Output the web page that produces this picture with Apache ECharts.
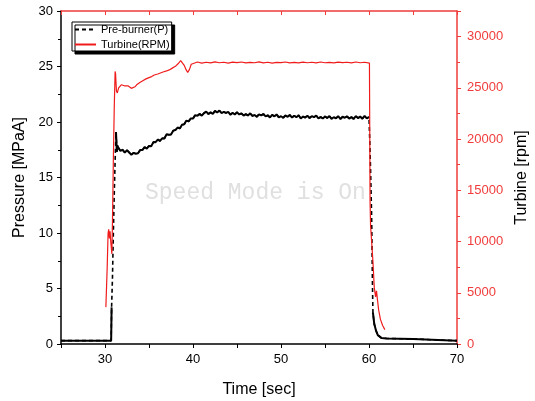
<!DOCTYPE html>
<html><head><meta charset="utf-8">
<script src="https://cdn.jsdelivr.net/npm/echarts@6/dist/echarts.min.js"></script>
<style>html,body{margin:0;padding:0;background:#fff;overflow:hidden}#c{width:535px;height:401px}</style>
</head><body><div id="c"></div><script>
// ---- data ----
// Pressure: start-up part (time, MPa)
const pStartTime = [25, 30.7, 30.72, 30.75, 30.85, 30.95, 31.05, 31.15, 31.25, 31.3, 31.35, 31.4];
const pStartVal  = [0.3, 0.3, 1.5, 3.3, 6.0, 10.0, 13.5, 16.5, 19.1, 18.2, 17.3, 17.9];
// Pressure: noisy running part, first sample at 31.5 s, one sample every 0.25 s
const pRunStart = 31.5, pRunStep = 0.25;
const pRunVal = [
 17.70,17.40,17.50,17.25,17.45,17.25,17.05,17.22,17.14,17.18,17.48,17.47,17.73,17.60,17.84,17.81,18.19,18.18,18.42,18.29,
 18.53,18.52,18.89,18.85,18.88,19.22,19.28,19.50,19.42,19.75,19.79,20.13,20.05,20.32,20.31,20.62,20.56,20.73,20.57,20.80,
 20.94,20.72,20.87,20.73,21.00,20.85,21.03,20.80,20.91,20.82,20.91,20.66,20.84,20.68,20.87,20.68,20.78,20.58,20.70,20.59,
 20.78,20.55,20.63,20.47,20.69,20.60,20.72,20.51,20.60,20.41,20.65,20.51,20.68,20.42,20.52,20.38,20.59,20.47,20.64,20.40,
 20.56,20.43,20.61,20.32,20.49,20.40,20.57,20.35,20.53,20.43,20.58,20.33,20.45,20.32,20.50,20.36,20.54,20.29,20.43,20.34,
 20.52,20.27,20.47,20.38,20.51,20.31,20.44,20.28,20.53,20.35,20.49,20.30,20.55,20.33,20.45
];
// Pressure: shut-down part
const pEndTime = [60.1, 60.2, 60.3, 60.4, 60.45, 60.6, 60.8, 61.0, 61.4, 62.0, 65.0, 65.2, 70];
const pEndVal  = [18.0, 15.0, 11.5, 5.0, 2.8, 1.8, 1.2, 0.8, 0.55, 0.5, 0.45, 0.3, 0.3];
// Time spans where the dashed pressure line shows its dashes
const dashedSpans = [[30.75, 31.25], [60.0, 60.45]];

// Turbine speed (time, rpm)
const tTime = [30.1,30.25,30.35,30.42,30.5,30.58,30.65,30.78,30.85,30.95,31.05,31.15,31.2,31.3,31.4,31.55,31.7,31.85,32.0,32.2,
 32.4,32.6,32.8,33.0,33.2,33.4,33.6,33.8,34.0,34.3,34.6,35.0,35.3,35.6,36.0,36.3,36.6,37.0,37.3,37.6,
 38.0,38.3,38.6,38.8,39.0,39.2,39.4,39.6,39.8,40.0,40.5,41,41.5,42,42.5,43,43.5,44,44.5,45,
 45.5,46,46.5,47,47.5,48,48.5,49,49.5,50,50.5,51,51.5,52,52.5,53,53.5,54,54.5,55,
 55.5,56,56.5,57,57.5,58,58.5,59,59.5,60.05,60.12,60.18,60.3,60.45,60.6,60.75,60.85,60.95,61.1,61.3,61.55,61.8];
const tVal = [3600,7500,10800,11200,10300,11000,10000,8800,12000,18000,23000,26600,26400,24700,24500,25000,24900,25300,25400,25200,
 25350,25200,25100,24950,24900,25100,25300,25450,25550,25700,25850,26000,26100,26250,26350,26450,26550,26650,26750,26900,
 27100,27350,27650,27500,27200,26800,26500,26800,27300,27450,27520,27420,27500,27440,27530,27450,27500,27420,27510,27460,
 27520,27430,27490,27450,27530,27440,27500,27420,27480,27460,27520,27440,27490,27430,27510,27450,27500,27440,27520,27450,
 27490,27430,27510,27460,27500,27440,27520,27450,27500,27420,14000,11500,10000,8000,5500,4600,5200,4400,3300,2400,1800,1400];

// ---- build series data ----
const pressure = [];
pStartTime.forEach((t, i) => pressure.push([t, pStartVal[i]]));
pRunVal.forEach((v, i) => pressure.push([+(pRunStart + i * pRunStep).toFixed(2), v]));
pEndTime.forEach((t, i) => pressure.push([t, pEndVal[i]]));
const inDash = t => dashedSpans.some(s => t > s[0] && t < s[1]);
const pressureSolid = pressure.map(p => inDash(p[0]) ? [p[0], null] : p);
const turbine = tTime.map((t, i) => [t, tVal[i]]);

const RED = '#f01c1c', AXRED = '#f03c3c';
const FONT = '"Liberation Sans", Arial, sans-serif';
const chart = echarts.init(document.getElementById('c'), null, {renderer: 'canvas'});
chart.setOption({
  animation: false,
  backgroundColor: '#fff',
  grid: {left: 61, right: 78, top: 11, bottom: 57, containLabel: false, outerBoundsMode: 'none'},
  graphic: [{
    type: 'text', left: 145, top: 181, z: 0, silent: true,
    style: {text: 'Speed Mode is On', font: '23px "Liberation Mono", "Courier New", monospace', fill: '#e0e0e0'}
  }],
  legend: {
    left: 72, top: 22, orient: 'vertical', itemGap: 4, itemWidth: 21, itemHeight: 10,
    padding: [2, 2, 1, 2], backgroundColor: '#fff', borderColor: '#000', borderWidth: 1,
    shadowColor: '#000', shadowBlur: 0, shadowOffsetX: 3, shadowOffsetY: 3,
    itemStyle: {opacity: 0},
    textStyle: {fontFamily: FONT, fontSize: 11, color: '#000'},
    data: ['Pre-burner(P)', 'Turbine(RPM)']
  },
  xAxis: [{
    type: 'value', min: 25, max: 70, interval: 5, position: 'bottom',
    name: 'Time [sec]', nameLocation: 'middle', nameGap: 38,
    nameTextStyle: {fontFamily: FONT, fontSize: 16, color: '#000'},
    axisLine: {onZero: false, lineStyle: {color: '#000', width: 1.5}},
    axisTick: {show: true, inside: false, length: 4, lineStyle: {color: '#000'}},
    axisLabel: {fontFamily: FONT, fontSize: 13, color: '#000', margin: 9,
      formatter: v => (v % 10 === 0 ? String(v) : '')},
    splitLine: {show: false}
  }, {
    type: 'value', min: 25, max: 70, interval: 5, position: 'top',
    axisLine: {onZero: false, lineStyle: {color: AXRED, width: 1.5}},
    axisTick: {show: true, inside: true, length: 4, lineStyle: {color: AXRED}},
    axisLabel: {show: false}, splitLine: {show: false}
  }],
  yAxis: [{
    type: 'value', min: 0, max: 30, interval: 5, position: 'left',
    name: 'Pressure [MPaA]', nameLocation: 'middle', nameGap: 29,
    nameTextStyle: {fontFamily: FONT, fontSize: 16, color: '#000'},
    axisLine: {show: true, onZero: false, lineStyle: {color: '#000', width: 1.5}},
    axisTick: {show: true, inside: false, length: 4, lineStyle: {color: '#000'}},
    minorTick: {show: true, splitNumber: 2, length: 3, lineStyle: {color: '#000'}},
    axisLabel: {fontFamily: FONT, fontSize: 13, color: '#000', margin: 8},
    splitLine: {show: false}
  }, {
    type: 'value', min: 0, max: 32500, interval: 5000, position: 'right',
    name: 'Turbine [rpm]', nameLocation: 'middle', nameGap: 54,
    nameTextStyle: {fontFamily: FONT, fontSize: 16, color: '#000'},
    axisLine: {show: true, onZero: false, lineStyle: {color: AXRED, width: 1.5}},
    axisTick: {show: true, inside: false, length: 4, lineStyle: {color: AXRED}},
    minorTick: {show: true, splitNumber: 2, length: 3, lineStyle: {color: AXRED}},
    axisLabel: {fontFamily: FONT, fontSize: 13, color: AXRED, margin: 10, showMaxLabel: false,
      formatter: v => String(v)},
    splitLine: {show: false}
  }],
  series: [{
    name: 'Pre-burner(P)', type: 'line', xAxisIndex: 0, yAxisIndex: 0, data: pressure,
    symbol: 'none', z: 3,
    lineStyle: {color: '#000', width: 1.6, type: [4, 3]}, itemStyle: {color: '#000'}
  }, {
    name: 'Pre-burner(P)', type: 'line', xAxisIndex: 0, yAxisIndex: 0, data: pressureSolid,
    symbol: 'none', connectNulls: false, z: 3,
    lineStyle: {color: '#000', width: 2}, itemStyle: {color: '#000'}
  }, {
    name: 'Turbine(RPM)', type: 'line', xAxisIndex: 0, yAxisIndex: 1, data: turbine,
    symbol: 'none', z: 4,
    lineStyle: {color: RED, width: 1.2}, itemStyle: {color: RED}
  }]
});
</script></body></html>
